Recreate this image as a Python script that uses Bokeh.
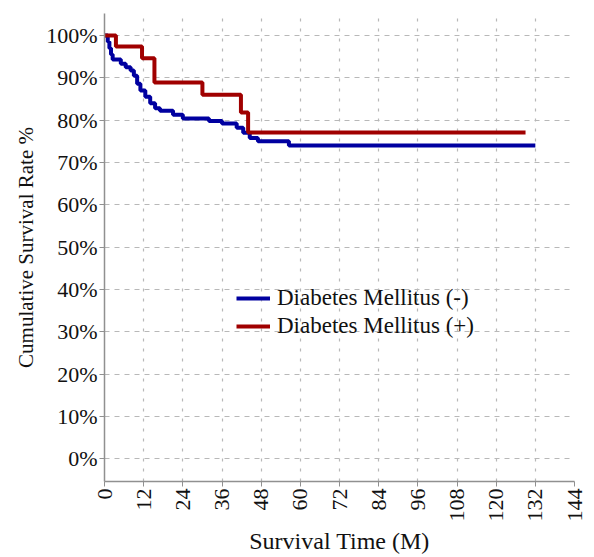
import numpy as np
from bokeh.plotting import figure
from bokeh.models import Range1d, FixedTicker, PrintfTickFormatter, Legend, LegendItem
from bokeh.embed import file_html
from bokeh.resources import INLINE

# Kaplan-Meier step data (time in months, survival %)
dm_neg_time = [0, 1, 1.5, 2, 2.5, 5, 6.5, 8, 9, 10, 11, 12.5, 14, 15.5, 17, 21, 24, 32, 36, 40.5, 42.5, 44.5, 47, 56.5, 132]
dm_neg_surv = [100, 98.5, 97, 95.5, 94.3, 93.3, 92.5, 91.7, 90.5, 88.6, 87, 85.5, 84, 82.8, 82.2, 81.3, 80.4, 79.8, 79.2, 78.2, 77, 75.8, 75, 74.0, 74.0]

dm_pos_time = [0, 3.5, 11.5, 15.3, 30, 41.8, 44, 129]
dm_pos_surv = [100, 97.4, 94.6, 88.9, 86, 81.8, 77.1, 77.1]

x_ticks = [0, 12, 24, 36, 48, 60, 72, 84, 96, 108, 120, 132, 144]
y_ticks = [0, 10, 20, 30, 40, 50, 60, 70, 80, 90, 100]

labels = ["Diabetes Mellitus (-)", "Diabetes Mellitus (+)"]
colors = ["#0000a0", "#a00000"]

FONT = "Liberation Serif"

p = figure(width=586, height=556, output_backend="svg", toolbar_location=None,
           x_range=Range1d(0, 144), y_range=Range1d(-5.4, 105.2),
           min_border_left=104, min_border_right=12, min_border_top=13, min_border_bottom=73)
p.outline_line_color = None

r_neg = p.step(x=dm_neg_time, y=dm_neg_surv, mode="after", line_color=colors[0], line_width=4)
r_pos = p.step(x=dm_pos_time, y=dm_pos_surv, mode="after", line_color=colors[1], line_width=4)

# axes
p.xaxis.ticker = FixedTicker(ticks=x_ticks)
p.yaxis.ticker = FixedTicker(ticks=y_ticks)
p.yaxis.formatter = PrintfTickFormatter(format="%d%%")
p.xaxis.major_label_orientation = np.pi / 2
for ax in (p.xaxis, p.yaxis):
    ax.axis_line_color = "#909090"
    ax.axis_line_width = 1.5
    ax.major_tick_line_color = "#909090"
    ax.major_tick_in = 0
    ax.major_tick_out = 5
    ax.minor_tick_line_color = None
    ax.major_label_text_font = FONT
    ax.major_label_text_font_style = "normal"
    ax.major_label_text_font_size = "22px"
    ax.major_label_text_color = "#111111"
    ax.axis_label_text_font = FONT
    ax.axis_label_text_font_style = "normal"
    ax.axis_label_text_color = "#111111"
p.xaxis.axis_label = "Survival Time (M)"
p.yaxis.axis_label = "Cumulative Survival Rate %"
p.xaxis.axis_label_text_font_size = "24px"
p.yaxis.axis_label_text_font_size = "21px"
p.xaxis.axis_label_standoff = 3
p.xaxis.major_label_standoff = 2
p.yaxis.major_label_standoff = 2

# grids
p.xgrid.grid_line_color = "#b8b8b8"
p.xgrid.grid_line_dash = "3 7"
p.xgrid.grid_line_width = 1.2
p.ygrid.grid_line_color = "#b8b8b8"
p.ygrid.grid_line_dash = "5 5"
p.ygrid.grid_line_width = 1.2

legend = Legend(items=[LegendItem(label=labels[0], renderers=[r_neg]),
                       LegendItem(label=labels[1], renderers=[r_pos])],
                location=(128, 138))
legend.background_fill_alpha = 0
legend.border_line_alpha = 0
legend.label_text_font = FONT
legend.label_text_font_style = "normal"
legend.label_text_font_size = "23px"
legend.label_text_color = "#111111"
legend.glyph_width = 34
legend.glyph_height = 20
legend.label_standoff = 7
legend.spacing = 2
legend.padding = 4
legend.margin = 0
p.add_layout(legend)

open("out.html", "w").write(file_html(p, INLINE))
